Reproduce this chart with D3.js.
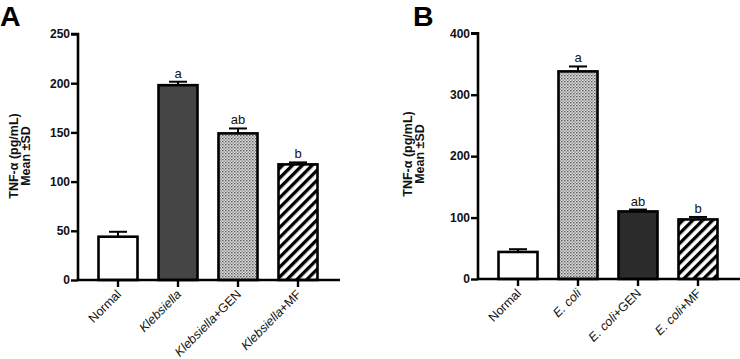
<!DOCTYPE html>
<html><head><meta charset="utf-8">
<script src="https://cdn.jsdelivr.net/npm/d3@7"></script>
<style>body{margin:0;background:#fff}svg{display:block;font-family:"Liberation Sans",Arial,sans-serif}</style>
</head><body><svg id="c" width="740" height="359"></svg>
<script>
// Panel A
const catsA = [["Normal",""],["Klebsiella","i"],["Klebsiella","i","+GEN"],["Klebsiella","i","+MF"]];
const meanA = [44, 198, 149, 117.5];
const sdA = [5, 3.5, 5, 2];
const fillA = ["white","dark","dots","stripes"];
const lettersA = ["", "a", "ab", "b"];
const ticksA = [0,50,100,150,200,250];
// Panel B
const catsB = [["Normal",""],["E. coli","i"],["E. coli","i","+GEN"],["E. coli","i","+MF"]];
const meanB = [44, 338, 110, 97];
const sdB = [4.5, 8, 3, 4];
const fillB = ["white","dots","dark2","stripes"];
const lettersB = ["", "a", "ab", "b"];
const ticksB = [0,100,200,300,400];

const svg = d3.select("#c");
const defs = svg.append("defs");
// dotted texture
const pd = defs.append("pattern").attr("id","dots").attr("patternUnits","userSpaceOnUse").attr("width",3).attr("height",3);
pd.append("rect").attr("width",3).attr("height",3).attr("fill","#dcdcdc");
pd.append("rect").attr("x",0).attr("y",0).attr("width",1.5).attr("height",1.3).attr("fill","#5a5a5a");
pd.append("rect").attr("x",1.5).attr("y",1.5).attr("width",1.3).attr("height",1.3).attr("fill","#7a7a7a");
// stripes
const ps = defs.append("pattern").attr("id","stripes").attr("patternUnits","userSpaceOnUse").attr("width",7).attr("height",7).attr("patternTransform","rotate(45)");
ps.append("rect").attr("width",7).attr("height",7).attr("fill","white");
ps.append("rect").attr("x",0).attr("width",3.3).attr("height",7).attr("fill","black");

const fills = {white:"white", dark:"#454545", dark2:"#2b2b2b", dots:"url(#dots)", stripes:"url(#stripes)"};

function panel(opt){
  const g = svg.append("g");
  const y = d3.scaleLinear().domain([0, opt.ymax]).range([opt.y0, opt.y1]);
  const x = d3.scaleBand().domain(d3.range(opt.cats.length)).range([opt.xl+10, opt.xl+10+60*opt.cats.length]).paddingInner(0.35).paddingOuter(0.175);
  // bars
  g.selectAll("rect.bar").data(opt.mean).join("rect")
    .attr("x", (d,i)=>x(i)).attr("width", x.bandwidth())
    .attr("y", d=>y(d)).attr("height", d=>opt.y0-y(d))
    .attr("fill",(d,i)=>fills[opt.fill[i]]).attr("stroke","black").attr("stroke-width",2.6);
  // error bars
  opt.mean.forEach((m,i)=>{
    const cx = x(i)+x.bandwidth()/2;
    g.append("line").attr("x1",cx).attr("x2",cx).attr("y1",y(m)).attr("y2",y(m+opt.sd[i])).attr("stroke","black").attr("stroke-width",2);
    g.append("line").attr("x1",cx-9).attr("x2",cx+9).attr("y1",y(m+opt.sd[i])).attr("y2",y(m+opt.sd[i])).attr("stroke","black").attr("stroke-width",2);
    if(opt.letters[i]) g.append("text").attr("x",cx).attr("y",y(m+opt.sd[i])-4).attr("text-anchor","middle")
      .attr("font-size",13).attr("fill","#111").text(opt.letters[i]);
  });
  // y axis
  const ya = g.append("g").attr("transform",`translate(${opt.xl},0)`).call(d3.axisLeft(y).tickValues(opt.ticks).tickSize(7).tickPadding(1));
  ya.select(".domain").attr("stroke-width",2.6).attr("d",`M-7,${y(opt.ymax)}H0V${opt.y0}`);
  ya.selectAll(".tick line").attr("stroke-width",2.4);
  ya.selectAll(".tick text").attr("font-size",12).attr("font-weight","bold").attr("fill","#111").attr("font-family","'Liberation Sans',Arial,sans-serif");
  // x axis
  const xa = g.append("g");
  xa.append("line").attr("x1",opt.xl).attr("x2",opt.xr).attr("y1",opt.y0).attr("y2",opt.y0).attr("stroke","black").attr("stroke-width",2.6);
  opt.cats.forEach((c,i)=>{
    const cx = x(i)+x.bandwidth()/2;
    xa.append("line").attr("x1",cx).attr("x2",cx).attr("y1",opt.y0).attr("y2",opt.y0+7).attr("stroke","black").attr("stroke-width",2.4);
    const t = xa.append("text").attr("transform",`translate(${cx+4},${opt.y0+15}) rotate(-45)`).attr("text-anchor","end").attr("font-size",12.5).attr("fill","#111");
    t.append("tspan").attr("font-style",c[1]==="i"?"italic":"normal").text(c[0]);
    if(c[2]) t.append("tspan").text(c[2]);
  });
  // axis title
  const tt = g.append("text").attr("transform",`translate(${opt.tx},${opt.ty}) rotate(-90)`).attr("text-anchor","middle").attr("font-size",12.5).attr("font-weight","bold").attr("fill","#111");
  tt.append("tspan").attr("x",0).attr("dy",0).text("TNF-α (pg/mL)");
  tt.append("tspan").attr("x",0).attr("dy",11.5).text("Mean ±SD");
  // panel letter
  g.append("text").attr("x",opt.lx).attr("y",26.3).attr("font-size",28.5).attr("font-weight","bold").attr("font-family","'Liberation Sans',Arial,sans-serif").text(opt.letter);
}

panel({cats:catsA, mean:meanA, sd:sdA, fill:fillA, letters:lettersA, ticks:ticksA, ymax:250, y0:280, y1:34, xl:78, xr:340, tx:18, ty:156, lx:0, letter:"A"});
panel({cats:catsB, mean:meanB, sd:sdB, fill:fillB, letters:lettersB, ticks:ticksB, ymax:400, y0:279, y1:33.3, xl:478, xr:740, tx:412, ty:154, lx:413, letter:"B"});
</script></body></html>
